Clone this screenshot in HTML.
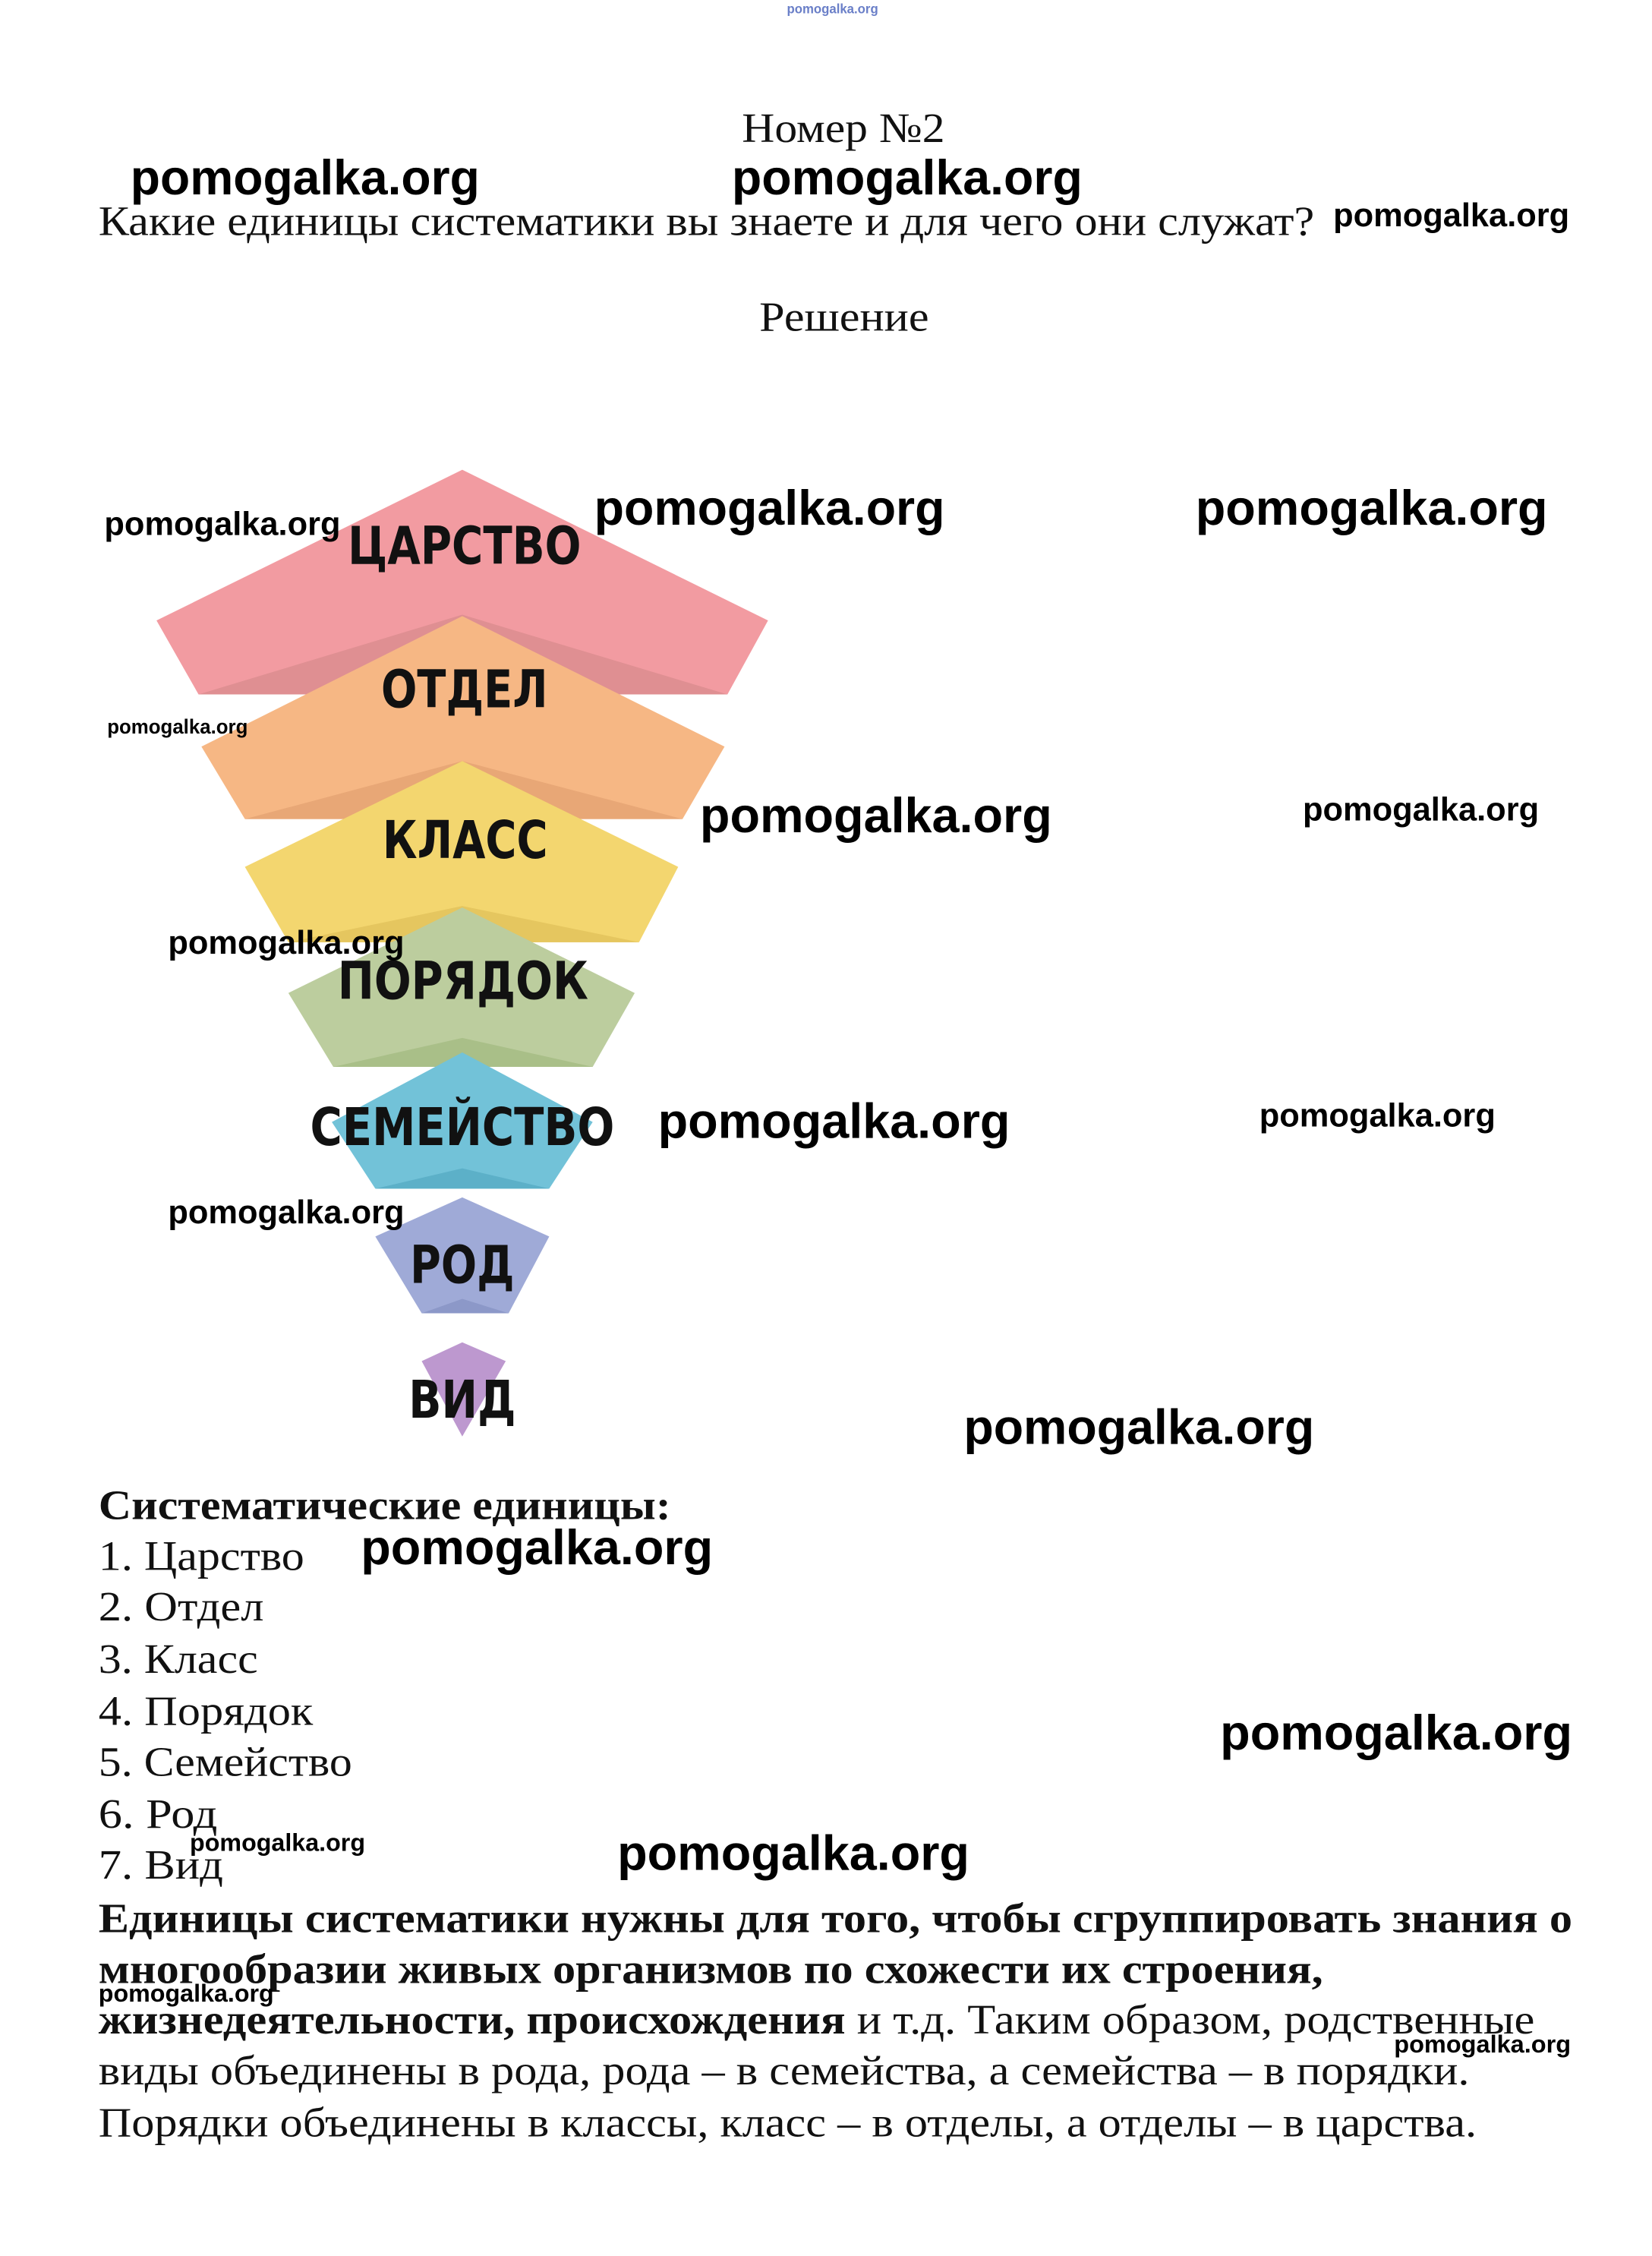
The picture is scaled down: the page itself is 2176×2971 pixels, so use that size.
<!DOCTYPE html>
<html><head><meta charset="utf-8"><style>
html,body{margin:0;padding:0;background:#fff;}
svg{display:block;}
.s{font-family:"Liberation Serif","Noto Serif CJK SC",serif;font-size:29px;fill:#111;}
.b{font-weight:bold;}
.w{font-family:"Liberation Sans",sans-serif;font-weight:bold;fill:#000;}
.l{font-family:"DejaVu Sans","Liberation Sans",sans-serif;font-weight:bold;fill:#111;font-size:36px;}
</style></head><body>
<svg width="2176" height="2971" viewBox="0 0 1140 1556.3" xmlns="http://www.w3.org/2000/svg">
<rect width="1140" height="1556.3" fill="#fff"/>
<text x="543" y="9" class="w" font-size="9" fill="#6a7fc8" style="fill:#6a7fc8" textLength="63" lengthAdjust="spacingAndGlyphs">pomogalka.org</text>

<text x="512" y="98" class="s" textLength="140" lengthAdjust="spacingAndGlyphs">Номер №2</text>
<text x="68" y="162" class="s" textLength="839" lengthAdjust="spacingAndGlyphs">Какие единицы систематики вы знаете и для чего они служат?</text>
<text x="524" y="228" class="s" textLength="117" lengthAdjust="spacingAndGlyphs">Решение</text>

<!-- pyramid -->
<polygon points="319,324 530,428 502,479 137,479 108,428" fill="#f29ba1"/>
<polygon points="137,479 319,424 502,479" fill="#df8f92"/>
<polygon points="319,425 500,515 471,565 169,565 139,515" fill="#f6b784"/>
<polygon points="169,565 319,525 471,565" fill="#e8a776"/>
<polygon points="319,525 468,598 441,650 199,650 169,598" fill="#f3d66f"/>
<polygon points="199,650 319,625 441,650" fill="#e5c65f"/>
<polygon points="319,626 438,685 409,736 230,736 199,685" fill="#bccd9e"/>
<polygon points="230,736 319,716 409,736" fill="#a9bf88"/>
<polygon points="319,726 409,774 379,820 259,820 229,774" fill="#72c2d8"/>
<polygon points="259,820 319,806 379,820" fill="#5cb0c8"/>
<polygon points="319,826 379,853 351,906 291,906 259,853" fill="#9faad7"/>
<polygon points="291,906 319,896 351,906" fill="#8c98c8"/>
<polygon points="319,926 349,939 319,991 291,939" fill="#bd98cf"/>

<text x="240" y="389" class="l" textLength="161" lengthAdjust="spacingAndGlyphs">ЦАРСТВО</text>
<text x="263" y="488" class="l" textLength="115" lengthAdjust="spacingAndGlyphs">ОТДЕЛ</text>
<text x="264" y="592" class="l" textLength="114" lengthAdjust="spacingAndGlyphs">КЛАСС</text>
<text x="233" y="689" class="l" textLength="173" lengthAdjust="spacingAndGlyphs">ПОРЯДОК</text>
<text x="214" y="790" class="l" textLength="210" lengthAdjust="spacingAndGlyphs">СЕМЕЙСТВО</text>
<text x="283" y="885" class="l" textLength="72" lengthAdjust="spacingAndGlyphs">РОД</text>
<text x="282" y="978" class="l" textLength="74" lengthAdjust="spacingAndGlyphs">ВИД</text>

<!-- body text -->
<text x="68" y="1048" class="s b" textLength="395" lengthAdjust="spacingAndGlyphs">Систематические единицы:</text>
<text x="68" y="1083" class="s" textLength="142" lengthAdjust="spacingAndGlyphs">1. Царство</text>
<text x="68" y="1118" class="s" textLength="114" lengthAdjust="spacingAndGlyphs">2. Отдел</text>
<text x="68" y="1154" class="s" textLength="110" lengthAdjust="spacingAndGlyphs">3. Класс</text>
<text x="68" y="1190" class="s" textLength="148" lengthAdjust="spacingAndGlyphs">4. Порядок</text>
<text x="68" y="1225" class="s" textLength="175" lengthAdjust="spacingAndGlyphs">5. Семейство</text>
<text x="68" y="1261" class="s" textLength="82" lengthAdjust="spacingAndGlyphs">6. Род</text>
<text x="68" y="1296" class="s" textLength="86" lengthAdjust="spacingAndGlyphs">7. Вид</text>
<text x="68" y="1333" class="s b" textLength="1017" lengthAdjust="spacingAndGlyphs">Единицы систематики нужны для того, чтобы сгруппировать знания о</text>
<text x="68" y="1368" class="s b" textLength="845" lengthAdjust="spacingAndGlyphs">многообразии живых организмов по схожести их строения,</text>
<text x="68" y="1403" class="s" textLength="991" lengthAdjust="spacingAndGlyphs"><tspan class="b" font-weight="bold">жизнедеятельности, происхождения</tspan> и т.д. Таким образом, родственные</text>
<text x="68" y="1438" class="s" textLength="946" lengthAdjust="spacingAndGlyphs">виды объединены в рода, рода – в семейства, а семейства – в порядки.</text>
<text x="68" y="1474" class="s" textLength="951" lengthAdjust="spacingAndGlyphs">Порядки объединены в классы, класс – в отделы, а отделы – в царства.</text>

<!-- watermarks -->
<g class="w">
<text x="90" y="134" font-size="34" textLength="241" lengthAdjust="spacingAndGlyphs">pomogalka.org</text>
<text x="505" y="134" font-size="34" textLength="242" lengthAdjust="spacingAndGlyphs">pomogalka.org</text>
<text x="920" y="156" font-size="23" textLength="163" lengthAdjust="spacingAndGlyphs">pomogalka.org</text>
<text x="72" y="369" font-size="23" textLength="163" lengthAdjust="spacingAndGlyphs">pomogalka.org</text>
<text x="410" y="362" font-size="34" textLength="242" lengthAdjust="spacingAndGlyphs">pomogalka.org</text>
<text x="825" y="362" font-size="34" textLength="243" lengthAdjust="spacingAndGlyphs">pomogalka.org</text>
<text x="74" y="506" font-size="14" textLength="97" lengthAdjust="spacingAndGlyphs">pomogalka.org</text>
<text x="483" y="574" font-size="34" textLength="243" lengthAdjust="spacingAndGlyphs">pomogalka.org</text>
<text x="899" y="566" font-size="23" textLength="163" lengthAdjust="spacingAndGlyphs">pomogalka.org</text>
<text x="116" y="658" font-size="23" textLength="163" lengthAdjust="spacingAndGlyphs">pomogalka.org</text>
<text x="454" y="785" font-size="34" textLength="243" lengthAdjust="spacingAndGlyphs">pomogalka.org</text>
<text x="869" y="777" font-size="23" textLength="163" lengthAdjust="spacingAndGlyphs">pomogalka.org</text>
<text x="116" y="844" font-size="23" textLength="163" lengthAdjust="spacingAndGlyphs">pomogalka.org</text>
<text x="665" y="996" font-size="34" textLength="242" lengthAdjust="spacingAndGlyphs">pomogalka.org</text>
<text x="249" y="1079" font-size="34" textLength="243" lengthAdjust="spacingAndGlyphs">pomogalka.org</text>
<text x="842" y="1207" font-size="34" textLength="243" lengthAdjust="spacingAndGlyphs">pomogalka.org</text>
<text x="131" y="1277" font-size="17" textLength="121" lengthAdjust="spacingAndGlyphs">pomogalka.org</text>
<text x="426" y="1290" font-size="34" textLength="243" lengthAdjust="spacingAndGlyphs">pomogalka.org</text>
<text x="68" y="1381" font-size="17" textLength="121" lengthAdjust="spacingAndGlyphs">pomogalka.org</text>
<text x="962" y="1416" font-size="17" textLength="122" lengthAdjust="spacingAndGlyphs">pomogalka.org</text>
</g>
</svg>
</body></html>
